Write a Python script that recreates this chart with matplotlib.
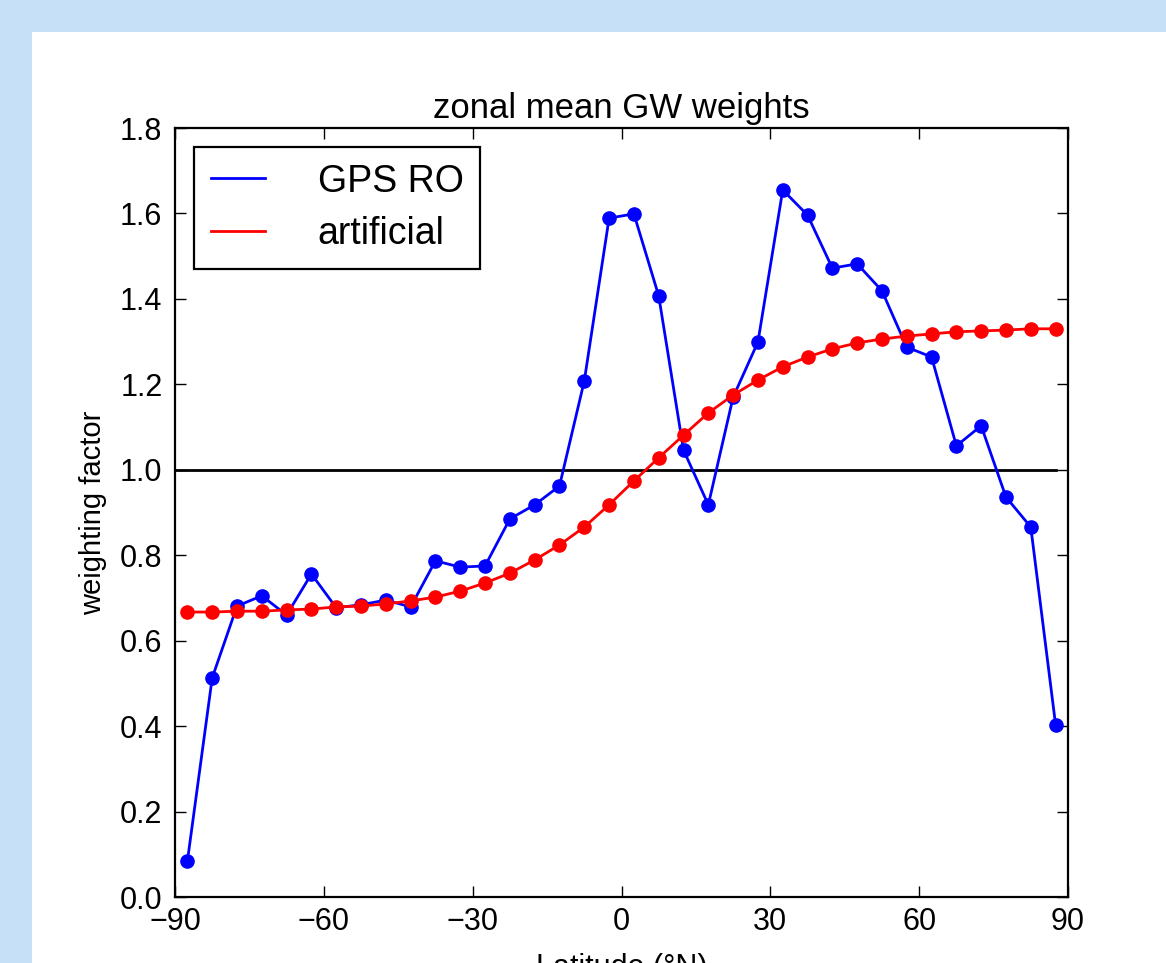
import numpy as np
import matplotlib
matplotlib.use('Agg')
import matplotlib.pyplot as plt
from matplotlib.lines import Line2D
from matplotlib.patches import Rectangle

plt.rcParams['font.family'] = ['Liberation Sans', 'DejaVu Sans']

# latitude bin centres
lat = np.arange(-87.5, 90, 5.0)

# GW weights from GPS RO
gps_ro = [0.084, 0.513, 0.681, 0.705, 0.660, 0.756, 0.677, 0.684, 0.695, 0.679,
          0.787, 0.772, 0.775, 0.885, 0.918, 0.962, 1.208, 1.589, 1.599, 1.407,
          1.046, 0.918, 1.170, 1.299, 1.655, 1.596, 1.472, 1.482, 1.419, 1.287,
          1.264, 1.056, 1.103, 0.936, 0.866, 0.403]

# artificial weighting
artificial = [0.667, 0.667, 0.669, 0.669, 0.672, 0.674, 0.679, 0.681, 0.686, 0.693,
              0.702, 0.716, 0.735, 0.758, 0.789, 0.824, 0.866, 0.918, 0.974, 1.028,
              1.081, 1.133, 1.175, 1.210, 1.241, 1.264, 1.283, 1.297, 1.306, 1.313,
              1.318, 1.323, 1.325, 1.327, 1.330, 1.330]

xticks = [-90, -60, -30, 0, 30, 60, 90]
yticks = np.arange(0, 1.81, 0.2)

fig = plt.figure(figsize=(11.66, 9.63), dpi=100, facecolor='#c6e0f8')
# white slide panel behind the axes
panel = Rectangle((32/1166, 0), 1 - 32/1166, 1 - 32/963,
                  transform=fig.transFigure, facecolor='white',
                  edgecolor='none', zorder=-10)
fig.add_artist(panel)

ax = fig.add_axes([175/1166, 66/963, 893/1166, 769/963])
ax.set_zorder(5)
ax.plot([-90, 87.5], [1, 1], color='black', lw=2)
ax.plot(lat, gps_ro, color='blue', lw=2, marker='o', ms=9.5, mec='blue')
ax.plot(lat, artificial, color='red', lw=2, marker='o', ms=9.5, mec='red')

ax.set_xlim(-90, 90)
ax.set_ylim(0, 1.8)
ax.set_xticks(xticks)
ax.set_yticks(yticks)
ax.set_yticklabels(['%.1f' % v for v in yticks])
ax.set_xticklabels([str(v).replace('-', '\u2212') for v in xticks])
ax.tick_params(direction='in', top=True, right=True, length=8, width=1,
               labelsize=22)
ax.tick_params(axis='y', pad=9)
ax.tick_params(axis='x', pad=7)
for s in ax.spines.values():
    s.set_linewidth(1.6)

ax.set_title('zonal mean GW weights', fontsize=25, pad=7)
ax.set_ylabel('weighting factor', fontsize=21, labelpad=9)
ax.set_xlabel('Latitude (°N)', fontsize=22, labelpad=12)

handles = [Line2D([], [], color='blue', lw=2), Line2D([], [], color='red', lw=2)]
leg = ax.legend(handles, ['GPS RO', 'artificial'], loc='upper left', fontsize=27,
                fancybox=False, framealpha=1, edgecolor='black',
                handlelength=1.45, handletextpad=1.4, borderpad=0.45,
                labelspacing=0.45, borderaxespad=0.5)
leg.get_frame().set_linewidth(1.6)

fig.savefig('out.png', dpi=100, facecolor=fig.get_facecolor())
